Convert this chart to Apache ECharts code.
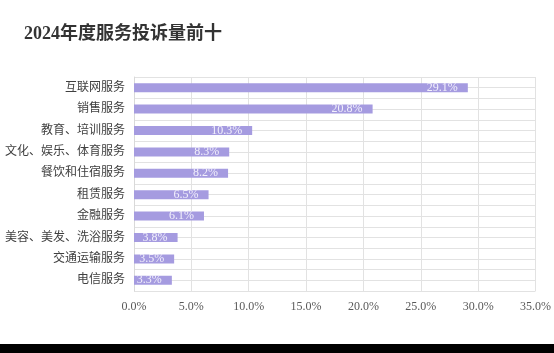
<!DOCTYPE html>
<html><head><meta charset="utf-8">
<script src="https://cdn.jsdelivr.net/npm/echarts@6/dist/echarts.min.js"></script>
<style>
html,body{margin:0;padding:0;background:#fff;}
#c{width:554px;height:344px;}
#band{width:554px;height:9px;background:#000;}
</style></head>
<body><div id="c"></div><div id="band"></div>
<script>
const title = '2024年度服务投诉量前十';
const categories = ['互联网服务','销售服务','教育、培训服务','文化、娱乐、体育服务','餐饮和住宿服务','租赁服务','金融服务','美容、美发、洗浴服务','交通运输服务','电信服务'];
const values = [29.1, 20.8, 10.3, 8.3, 8.2, 6.5, 6.1, 3.8, 3.5, 3.3];
const xTicks = [0, 5, 10, 15, 20, 25, 30, 35];

const font = '"Liberation Serif","Noto Sans CJK SC",serif';
const chart = echarts.init(document.getElementById('c'), null, {renderer:'canvas'});
chart.setOption({
  backgroundColor:'#fff',
  animation:false,
  title:{text:title,left:19,top:20,textStyle:{fontFamily:font,fontSize:18,fontWeight:'bold',color:'#333'}},
  grid:{left:134,right:17,top:77,bottom:53,containLabel:false},
  xAxis:{type:'value',min:xTicks[0],max:xTicks[xTicks.length-1],interval:5,
    axisLine:{show:false},axisTick:{show:false},
    splitLine:{show:true,lineStyle:{color:'#e2e2e2',width:1}},
    axisLabel:{margin:10,fontFamily:font,fontSize:12,color:'#595959',formatter:v=>v.toFixed(1)+'%'}},
  yAxis:[
    {type:'category',data:categories,inverse:true,
      axisLine:{show:true,lineStyle:{color:'#d9d9d9'}},axisTick:{show:false},splitLine:{show:false},
      axisLabel:{margin:9,fontFamily:font,fontSize:12,color:'#404040'}},
    {type:'value',min:0,max:20,interval:1,position:'left',
      axisLine:{show:false},axisTick:{show:false},axisLabel:{show:false},
      splitLine:{show:true,lineStyle:{color:'#e2e2e2',width:1}}}
  ],
  series:[{type:'bar',yAxisIndex:0,data:values,barWidth:9,
    itemStyle:{color:'#a59be0'},
    label:{show:true,position:'insideRight',distance:10,fontFamily:font,fontSize:12,color:'#f2f0fb',
      formatter:p=>p.value.toFixed(1)+'%'}}]
});
</script></body></html>
